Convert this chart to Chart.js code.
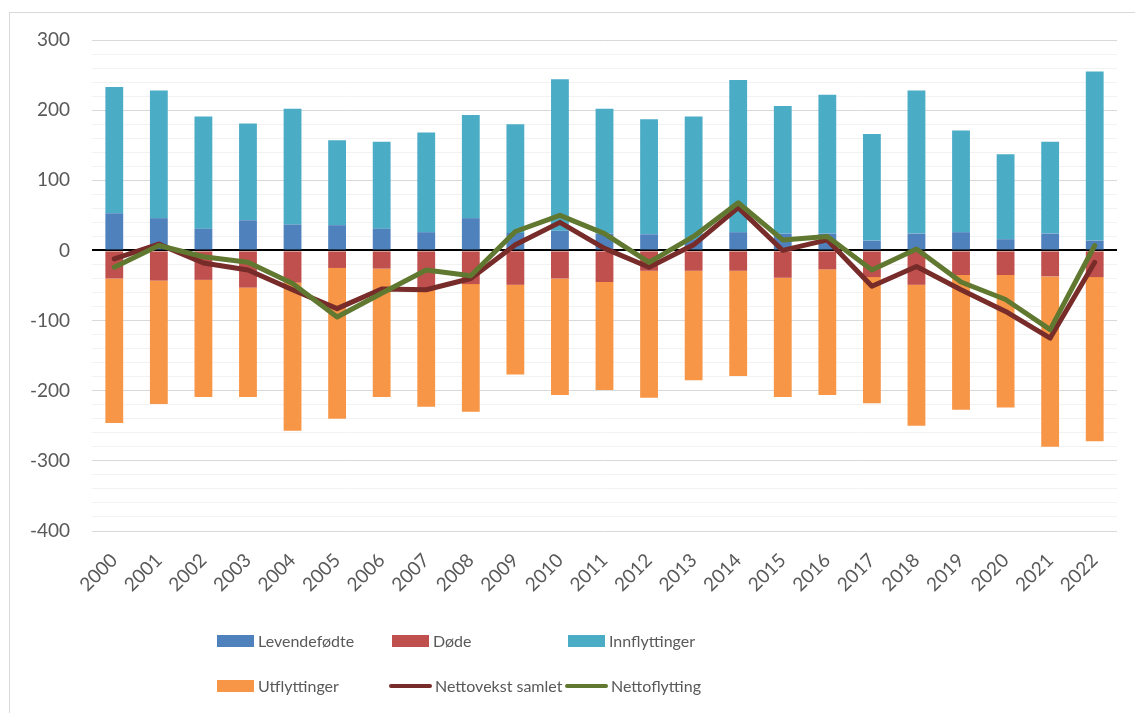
<!DOCTYPE html>
<html>
<head>
<meta charset="utf-8">
<script src="https://cdn.jsdelivr.net/npm/chart.js@4"></script>
<style>
  html, body { margin: 0; padding: 0; background: #fff; }
  #wrap { width: 1135px; height: 713px; position: relative; }
</style>
</head>
<body>
<div id="wrap"><canvas id="chart" width="1135" height="713"></canvas></div>
<script>
const years = ['2000', '2001', '2002', '2003', '2004', '2005', '2006', '2007', '2008', '2009', '2010',
    '2011', '2012', '2013', '2014', '2015', '2016', '2017', '2018', '2019', '2020', '2021', '2022'];

const levendefodte = [53, 46, 31, 43, 37, 36, 31, 26, 46, 25, 28, 24, 23, 15, 26, 24, 24, 14, 24, 26, 16, 24, 14];
const dode = [-40, -43, -42, -53, -46, -25, -26, -54, -48, -49, -40, -45, -29, -29, -29, -39, -27, -38, -49, -35, -35, -37, -38];
const innflyttinger = [180, 182, 160, 138, 165, 121, 124, 142, 147, 155, 216, 178, 164, 176, 217, 182, 198, 152, 204, 145, 121, 131, 241];
const utflyttinger = [-206, -176, -167, -156, -211, -215, -183, -169, -182, -128, -166, -154, -181, -156, -150, -170, -179, -180, -201, -192, -189, -243, -234];
const nettovekstSamlet = [-12, 9, -18, -28, -56, -83, -55, -56, -40, 8, 40, 3, -24, 8, 61, 0, 15, -51, -23, -56, -87, -125, -17];
const nettoflytting = [-24, 7, -9, -17, -47, -95, -61, -28, -36, 27, 50, 24, -17, 20, 68, 15, 20, -28, 2, -45, -70, -113, 7];

const yTickLabels = [300, 200, 100, 0, -100, -200, -300, -400];

const FONT = 'Lato, "Open Sans", sans-serif';
const TEXT_COLOR = '#595959';

// frame round the chart + a two row legend laid out in fixed columns
const frameAndLegend = {
    id: 'frameAndLegend',
    beforeDraw(chart) {
        const ctx = chart.ctx;
        ctx.save();
        ctx.strokeStyle = '#d9d9d9';
        ctx.lineWidth = 1;
        ctx.strokeRect(9.5, 12.5, 2000, 2000);
        ctx.restore();
    },
    afterDraw(chart) {
        const ctx = chart.ctx;
        const cols = [217, 392, 568];
        const rows = [641, 686];
        ctx.save();
        ctx.font = '16px ' + FONT;
        ctx.textBaseline = 'middle';
        ctx.fillStyle = TEXT_COLOR;
        chart.data.datasets.forEach((ds, i) => {
            const x = cols[i % 3];
            const y = rows[Math.floor(i / 3)];
            if (ds.type === 'line') {
                ctx.strokeStyle = ds.borderColor;
                ctx.lineWidth = 4;
                ctx.lineCap = 'round';
                ctx.beginPath();
                ctx.moveTo(x - 1, y);
                ctx.lineTo(x + 38, y);
                ctx.stroke();
                ctx.fillStyle = TEXT_COLOR;
                ctx.fillText(ds.label, x + 43, y + 1);
            } else {
                ctx.fillStyle = ds.backgroundColor;
                ctx.fillRect(x, y - 6, 37, 12);
                ctx.fillStyle = TEXT_COLOR;
                ctx.fillText(ds.label, x + 41, y + 1);
            }
        });
        ctx.restore();
    }
};

const barDefaults = { type: 'bar', stack: 'bars', order: 2, barPercentage: 0.8, categoryPercentage: 0.5, borderWidth: 0 };
const lineDefaults = { type: 'line', borderWidth: 5, pointRadius: 0, tension: 0, borderCapStyle: 'round', borderJoinStyle: 'round', fill: false };

new Chart(document.getElementById('chart').getContext('2d'), {
    data: {
        labels: years,
        datasets: [
            { ...barDefaults, label: 'Levendefødte', data: levendefodte, backgroundColor: '#4F81BD' },
            { ...barDefaults, label: 'Døde', data: dode, backgroundColor: '#C0504D' },
            { ...barDefaults, label: 'Innflyttinger', data: innflyttinger, backgroundColor: '#4BACC6' },
            { ...barDefaults, label: 'Utflyttinger', data: utflyttinger, backgroundColor: '#F79646' },
            { ...lineDefaults, label: 'Nettovekst samlet', data: nettovekstSamlet, borderColor: '#772C2A', stack: 'l1', order: 1 },
            { ...lineDefaults, label: 'Nettoflytting', data: nettoflytting, borderColor: '#607830', stack: 'l2', order: 0 }
        ]
    },
    options: {
        responsive: false,
        animation: false,
        layout: { padding: { top: 40, right: 18, bottom: 0, left: 0 } },
        scales: {
            x: {
                stacked: true,
                grid: { display: false, drawTicks: false },
                border: { display: false },
                ticks: {
                    color: TEXT_COLOR,
                    font: { family: FONT, size: 19 },
                    minRotation: 45,
                    maxRotation: 45,
                    autoSkip: false,
                    padding: 18
                },
                afterFit: (scale) => { scale.height = 182; }
            },
            y: {
                stacked: true,
                min: -400,
                max: 300,
                border: { display: false },
                grid: {
                    drawTicks: false,
                    color: (c) => c.tick.value === 0 ? '#000000' : (c.tick.value % 100 === 0 ? '#d9d9d9' : '#f2f2f2'),
                    lineWidth: (c) => c.tick.value === 0 ? 2 : 1
                },
                ticks: {
                    stepSize: 20,
                    autoSkip: false,
                    color: TEXT_COLOR,
                    font: { family: FONT, size: 19 },
                    padding: 22,
                    callback: (value) => yTickLabels.includes(value) ? value : ''
                },
                afterFit: (scale) => { scale.width = 92; }
            }
        },
        plugins: {
            legend: { display: false },
            tooltip: { enabled: false }
        }
    },
    plugins: [frameAndLegend]
});
</script>
</body>
</html>
